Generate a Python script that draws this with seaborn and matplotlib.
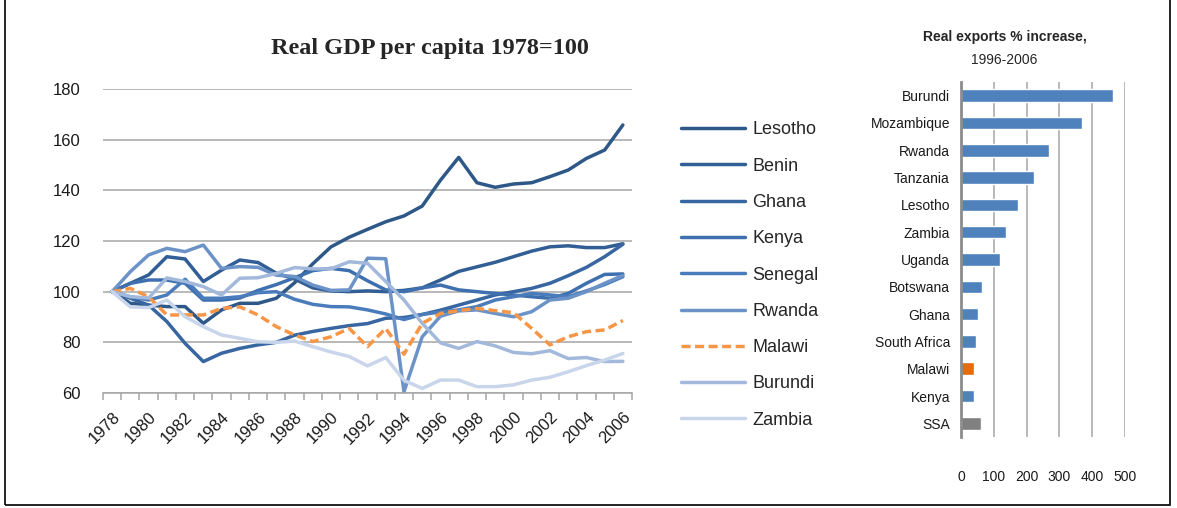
import numpy as np
import pandas as pd
import seaborn as sns
import matplotlib
matplotlib.use("Agg")
from matplotlib import pyplot as plt
from matplotlib.patches import Rectangle

# ---- data: real GDP per capita, 1978 = 100 ----
years = list(range(1978, 2007))
lesotho = [100, 95.4, 94.7, 94.1, 94.1, 87.5, 92.8, 95.4, 95.4, 97.4, 103.5, 111,
           117.7, 121.5, 124.6, 127.6, 129.9, 133.8, 144, 153, 143, 141.2,
           142.5, 143, 145.4, 148, 152.6, 155.9, 165.8]
benin = [100, 103.3, 106.6, 113.8, 112.9, 104, 108.5, 112.5, 111.5, 107.3, 105, 101.5,
         100.3, 100, 100.3, 100, 100.5, 101.5, 104.6, 108, 109.8, 111.6,
         113.8, 116, 117.7, 118.1, 117.4, 117.4, 118.9]
ghana = [100, 97.4, 94.7, 88.2, 79.6, 72.4, 75.7, 77.6, 79, 80, 82.8, 84.3,
         85.5, 86.6, 87.4, 89.5, 89.8, 91, 92.7, 94.7, 96.7, 98.7,
         100, 101.3, 103.3, 106.3, 109.6, 113.8, 118.7]
kenya = [100, 103.3, 104.6, 104.6, 103.3, 96.7, 96.7, 97.5, 100.5, 102.8, 105.5, 108.3,
         109.2, 108.3, 104.3, 100.7, 100, 101.5, 102.6, 100.7, 100, 99.3,
         98.7, 98, 97.4, 99.3, 103.3, 106.8, 107]
senegal = [100, 98, 96.7, 98.7, 104.9, 97.4, 97.4, 98, 99.6, 100, 97, 95,
           94.1, 94, 92.8, 91.2, 89, 91, 92, 92.8, 94.1, 96.7,
           98, 99.3, 98.7, 98, 100.3, 102.8, 105.9]
rwanda = [100, 107.9, 114.5, 117.1, 115.8, 118.4, 109.2, 109.9, 109.6, 106.5, 106, 102.6,
          100.5, 100.7, 113.2, 113, 60.5, 82.2, 90.3, 92.4, 92.8, 91.4,
          90.1, 92.1, 96.7, 97.4, 100, 103.3, 106.4]
malawi = [100, 101.3, 98, 90.8, 90.8, 90.8, 93.4, 94, 90.8, 86.2, 82.9, 80.3,
          82.2, 85.5, 78.3, 85.5, 75.3, 87.5, 91.4, 92.5, 93.4, 92.5,
          91.7, 85.5, 79, 82.2, 84.2, 84.9, 88.6]
burundi = [100, 98, 97.5, 105.4, 104, 102, 98.7, 105.3, 105.5, 107.2, 109.5, 109,
           109, 111.8, 111.2, 104, 96.7, 87.5, 79.8, 77.6, 80.3, 78.6,
           76, 75.5, 76.7, 73.6, 74, 72.4, 72.5]
zambia = [100, 94, 93.7, 96.7, 90.1, 86.2, 82.9, 81.6, 80.2, 80, 80.5, 78.3,
          76.2, 74.4, 70.7, 74, 65, 61.8, 65.1, 65.1, 62.5, 62.5,
          63.2, 65.1, 66.2, 68.4, 70.8, 73, 75.6]

gdp_countries = ["Lesotho", "Benin", "Ghana", "Kenya", "Senegal",
                 "Rwanda", "Malawi", "Burundi", "Zambia"]
gdp_series = [lesotho, benin, ghana, kenya, senegal,
              rwanda, malawi, burundi, zambia]
line_colors = ["#2E5888", "#315E94", "#3766A1", "#3E6FAE", "#4A7CBB",
               "#6C93C8", "#F79646", "#A3B9DC", "#C8D5EA"]

# ---- data: real exports % increase 1996-2006 ----
exp_countries = ["Burundi", "Mozambique", "Rwanda", "Tanzania", "Lesotho",
                 "Zambia", "Uganda", "Botswana", "Ghana", "South Africa",
                 "Malawi", "Kenya", "SSA"]
exp_values = [462, 368, 269, 223, 174, 138, 120, 65, 53, 47, 41, 41, 61]
bar_colors = ["#4F81BD"] * 10 + ["#E46C0A", "#4F81BD", "#808080"]

sns.set_theme(style="white")
plt.rcParams["font.family"] = ["Liberation Sans", "DejaVu Sans"]

fig = plt.figure(figsize=(11.77, 5.08), dpi=100)

# ---------------- left: line chart ----------------
ax = fig.add_axes([103 / 1177, 1 - 393 / 508, 529 / 1177, 304 / 508])
df = pd.DataFrame({
    "Year": np.tile(years, len(gdp_countries)),
    "Value": np.concatenate(gdp_series),
    "Country": np.repeat(gdp_countries, len(years)),
})
dashes = {c: ((2.6, 1.3) if c == "Malawi" else "") for c in gdp_countries}
sns.lineplot(data=df, x="Year", y="Value", hue="Country",
             hue_order=gdp_countries, palette=line_colors,
             style="Country", dashes=dashes, linewidth=2.5, ax=ax)

ax.set_xlim(1977.5, 2006.5)
ax.set_ylim(60, 180)
ax.set_yticks(range(60, 181, 20))
ax.yaxis.grid(True, color="#A6A6A6", linewidth=1.1)
ax.xaxis.grid(False)
for s in ["left", "right", "top"]:
    ax.spines[s].set_visible(False)
ax.spines["bottom"].set_color("#A6A6A6")
ax.spines["bottom"].set_linewidth(1.1)
ax.set_xticks(years[::2])
ax.set_xticklabels([str(y) for y in years[::2]], rotation=45, ha="right",
                   rotation_mode="anchor", fontsize=12, color="#1A1A1A")
ax.set_xticks(np.arange(1977.5, 2007, 1), minor=True)
ax.tick_params(axis="x", which="major", length=0, pad=12)
ax.tick_params(axis="x", which="minor", length=5, color="#A6A6A6",
               width=1.1, direction="out", bottom=True)
ax.tick_params(axis="y", length=0, labelsize=12, labelcolor="#1A1A1A", pad=16)
ax.set_xlabel("")
ax.set_ylabel("")
ax.set_title("Real GDP per capita 1978=100", family="Liberation Serif",
             fontweight="bold", fontsize=17.5, pad=25, x=0.618)

handles, labels = ax.get_legend_handles_labels()
ax.legend_.remove()
fig.legend(handles, labels, loc="upper left",
           bbox_to_anchor=(674 / 1177, 1 - 114 / 508), frameon=False,
           fontsize=13, handlelength=3.55, handletextpad=0.4,
           labelspacing=1.07, borderaxespad=0)

# ---------------- right: bar chart ----------------
bx = fig.add_axes([961 / 1177, 1 - 437 / 508, 164 / 1177, 355 / 508])
sns.barplot(x=exp_values, y=exp_countries, hue=exp_countries,
            palette=bar_colors, legend=False, orient="h",
            width=0.46, saturation=1, ax=bx)
bx.set_xlim(0, 500)
bx.set_xticks(range(0, 501, 100))
bx.xaxis.grid(True, color="#A6A6A6", linewidth=1.1)
bx.yaxis.grid(False)
bx.set_axisbelow(True)
for s in ["right", "top", "bottom"]:
    bx.spines[s].set_visible(False)
bx.spines["left"].set_color("#8C8C8C")
bx.spines["left"].set_linewidth(2)
bx.tick_params(axis="both", length=0)
bx.tick_params(axis="x", pad=24)
bx.tick_params(axis="y", pad=8)
for lab in bx.get_xticklabels() + bx.get_yticklabels():
    lab.set_fontsize(10)
    lab.set_color("#1A1A1A")
bx.set_xlabel("")
bx.set_ylabel("")

fig.text(1005 / 1177, 1 - 37 / 508, "Real exports % increase,",
         fontweight="bold", fontsize=10, ha="center", va="center")
fig.text(1004 / 1177, 1 - 60 / 508, "1996-2006",
         fontsize=10, ha="center", va="center")

# outer frame
fig.patches.append(Rectangle((5 / 1177, 3 / 508), 1165 / 1177, 1.2,
                             transform=fig.transFigure, fill=False,
                             edgecolor="black", linewidth=1.2))

fig.savefig("out.png", dpi=100)
